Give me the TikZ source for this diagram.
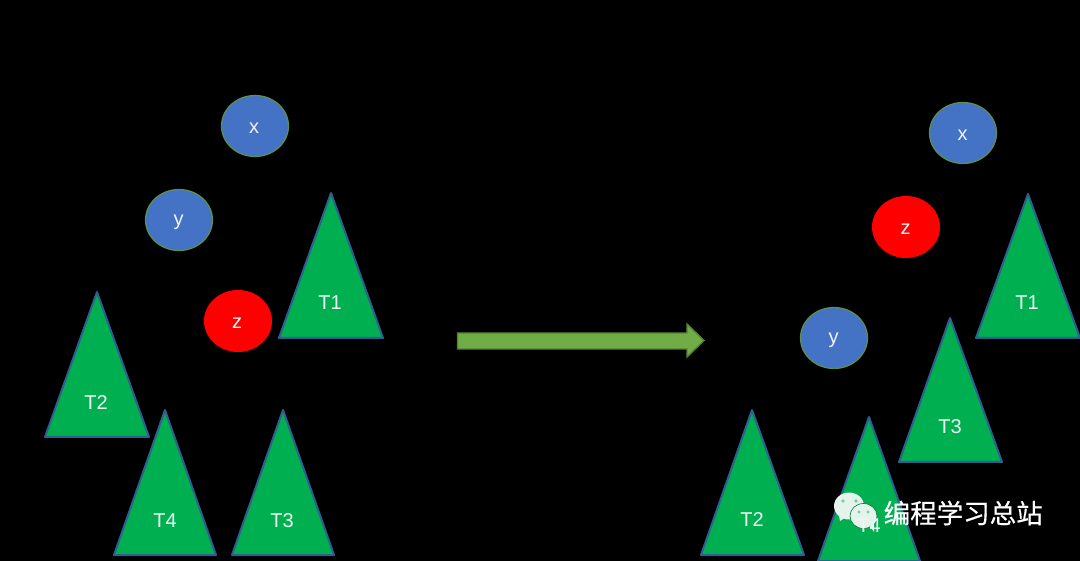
\documentclass[tikz,border=0pt]{standalone}
\usepackage{fontspec}
\setmainfont{Liberation Sans}
\newfontfamily\cjk[FakeBold=0.5]{Noto Sans CJK SC}
\definecolor{tgreen}{HTML}{00B050}
\definecolor{tedge}{HTML}{2F5F8F}
\definecolor{nblue}{HTML}{4472C4}
\definecolor{nedge}{HTML}{5F9050}
\definecolor{ared}{HTML}{FF0000}
\definecolor{arrowfill}{HTML}{70AD47}
\definecolor{arrowedge}{HTML}{548235}
\definecolor{iconc}{HTML}{E4F3EC}
\tikzset{
  x=1pt,y=-1pt,
  tree/.style={draw=tedge,fill=tgreen,line width=2pt,line join=round},
  lab/.style={text=white!92!tgreen,font=\fontsize{20}{24}\selectfont,inner sep=0pt},
  blue node/.style={ellipse,draw=nedge,fill=nblue,line width=1.2pt,minimum width=67pt,minimum height=61pt,inner sep=0pt},
  red node/.style={ellipse,draw=ared,fill=ared,line width=1pt,minimum width=67pt,minimum height=61pt,inner sep=0pt},
  name text/.style={text=white!92!nblue,font=\fontsize{20}{24}\selectfont,inner sep=0pt},
}
\usetikzlibrary{shapes.geometric}
\begin{document}
\begin{tikzpicture}
\useasboundingbox (0,0) rectangle (1080,561);
\fill[black] (0,0) rectangle (1080,561);
% left trees
\draw[tree] (331,193) -- (279,338) -- (383,338) -- cycle;
\draw[tree] (97,292) -- (45,437) -- (149,437) -- cycle;
\draw[tree] (165,410) -- (114,555) -- (216,555) -- cycle;
\draw[tree] (283,410) -- (232,555) -- (334,555) -- cycle;
\node[lab] (lt1) at (330,303) {T1};
\node[lab] (lt2) at (96,403) {T2};
\node[lab] (lt4) at (165,521) {T4};
\node[lab] (lt3) at (282,521) {T3};
% left nodes
\node[blue node] (lx) at (255,126) {};
\node[blue node] (ly) at (179,220) {};
\node[red node] (lz) at (238,321) {};
\node[name text] (lxt) at (254,128) {x};
\node[name text] (lyt) at (178.5,222) {y};
\node[name text] (lzt) at (237,323) {z};
% arrow
\draw[draw=arrowedge,fill=arrowfill,line width=1.4pt,line join=miter]
  (457.5,333) -- (687,333) -- (687,324) -- (704,340.5) -- (687,357) -- (687,349) -- (457.5,349) -- cycle;
% right trees
\draw[tree] (1028,194) -- (976,338) -- (1080,338) -- cycle;
\draw[tree] (950,318) -- (899,462) -- (1002,462) -- cycle;
\draw[tree] (752,410) -- (701,555) -- (804,555) -- cycle;
\draw[tree] (869,417) -- (818,561) -- (920,561) -- cycle;
\node[lab] (rt1) at (1027,303) {T1};
\node[lab] (rt3) at (950,427) {T3};
\node[lab] (rt2) at (752,520) {T2};
% right nodes
\node[blue node] (rx) at (963,133) {};
\node[red node] (rz) at (906,227) {};
\node[blue node] (ry) at (834,338) {};
\node[name text] (rxt) at (962.5,135) {x};
\node[name text] (rzt) at (905.5,229) {z};
\node[name text] (ryt) at (833.5,340) {y};
% watermark
\fill[iconc] (849,506) ellipse [x radius=15, y radius=13.5];
\fill[iconc] (839,516) -- (840,521) -- (846,517) -- cycle;
\fill[tgreen!50!iconc] (843,501) circle (1.8) (856,501) circle (1.8);
\fill[iconc,draw=tgreen!70!black,line width=.6pt] (863.5,516) ellipse [x radius=13.5, y radius=12.5];
\fill[iconc] (870,526) -- (874,532) -- (874,524) -- cycle;
\fill[tgreen!50!iconc] (859,512) circle (1.6) (868,512) circle (1.6);
\node[lab] (rt4) at (869,526) {T4};
\node[inner sep=0pt,anchor=west,text=white,font=\cjk\fontsize{26.5}{30}\selectfont] (wm) at (883.5,513) {编程学习总站};
\end{tikzpicture}
\end{document}
